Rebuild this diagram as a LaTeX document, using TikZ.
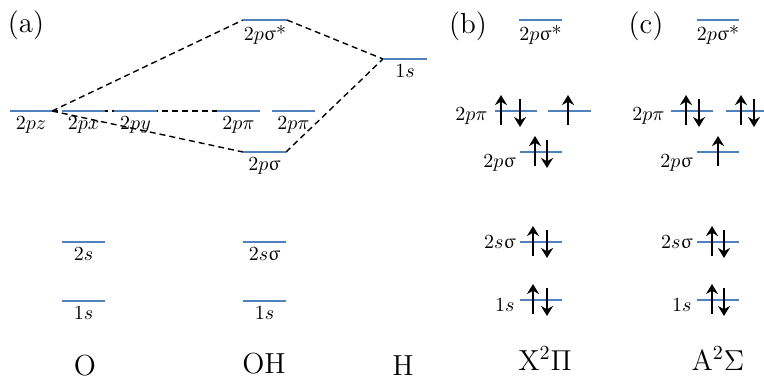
\documentclass[tikz,border=0pt]{standalone}
\usepackage{upgreek}
\usetikzlibrary{arrows.meta,calc}
\definecolor{lvlblue}{RGB}{79,129,189}

\begin{document}
\begin{tikzpicture}[x=0.5pt,y=-0.5pt,
  lvl/.style={lvlblue,line width=1.1pt},
  corr/.style={dash pattern=on 3pt off 2pt,line width=0.7pt},
  spin/.style={line width=1.3pt,-{Stealth[length=5pt,width=6pt]}},
  lab/.style={font=\fontsize{10}{12}\selectfont,inner sep=0pt},
  big/.style={font=\fontsize{14.5}{17}\selectfont,inner sep=0pt}]
  \useasboundingbox (0,0) rectangle (764,380);
  % levels: name / left / right / height
  \foreach \n/\xa/\xb/\y in {Opz/10/52/111, Opx/62/105/111, Opy/114/157/111,
      Os/62/105/242, Ok/62/105/301,
      ss/243/287/20, pia/217/260/111, pib/272/315/111, psg/243/286/152,
      OHs/243/286/242, OHk/243/286/301, Hk/383/427/59,
      b-ss/519/562/20, b-pia/495/537/111, b-pib/548/591/111, b-psg/520/562/152,
      b-s/520/562/242, b-k/520/562/300,
      c-ss/697/739/20, c-pia/671/713/111, c-pib/726/768/111, c-psg/697/739/152,
      c-s/697/739/242, c-k/697/739/300}
  {
    \coordinate (\n-l) at (\xa,\y);
    \coordinate (\n-r) at (\xb,\y);
  }
  % correlation lines
  \draw[corr] (Opz-r) -- (ss-l);
  \draw[corr] (Opz-r) -- (psg-l);
  \draw[corr] (Opz-r) -- (pia-l);
  \draw[corr] (ss-r) -- (Hk-l);
  \draw[corr] (psg-r) -- (Hk-l);
  \foreach \n in {Opz,Opx,Opy,Os,Ok,ss,pia,pib,psg,OHs,OHk,Hk,
      b-ss,b-pia,b-pib,b-psg,b-s,b-k,c-ss,c-pia,c-pib,c-psg,c-s,c-k}
    \draw[lvl] (\n-l) -- (\n-r);

  % (a) labels under the levels
  \node[lab,below=2.5pt] (tpz) at ($(Opz-l)!0.5!(Opz-r)$) {$2pz$};
  \node[lab,below=2.5pt] (tpx) at ($(Opx-l)!0.5!(Opx-r)$) {$2px$};
  \node[lab,below=2.5pt] (tpy) at ($(Opy-l)!0.5!(Opy-r)$) {$2py$};
  \node[lab,below=2.5pt] (tos) at ($(Os-l)!0.5!(Os-r)$) {$2s$};
  \node[lab,below=2.5pt] (tok) at ($(Ok-l)!0.5!(Ok-r)$) {$1s$};
  \node[lab,below=2.5pt] (tss) at ($(ss-l)!0.5!(ss-r)$) {$2p\upsigma$*};
  \node[lab,below=2.5pt] (tpia) at ($(pia-l)!0.5!(pia-r)$) {$2p\pi$};
  \node[lab,below=2.5pt] (tpib) at ($(pib-l)!0.5!(pib-r)$) {$2p\pi$};
  \node[lab,below=2.5pt] (tpsg) at ($(psg-l)!0.5!(psg-r)$) {$2p\upsigma$};
  \node[lab,below=2.5pt] (tohs) at ($(OHs-l)!0.5!(OHs-r)$) {$2s\upsigma$};
  \node[lab,below=2.5pt] (tohk) at ($(OHk-l)!0.5!(OHk-r)$) {$1s$};
  \node[lab,below=2.5pt] (thk) at ($(Hk-l)!0.5!(Hk-r)$) {$1s$};
  \node[big] (pa) at (26,25) {(a)};
  \node[big,anchor=base] (tO) at (85,375) {O};
  \node[big,anchor=base] (tOH) at (264,373) {OH};
  \node[big,anchor=base] (tH) at (403,375) {H};

  % (b) and (c)
  \foreach \p/\dx in {b/0,c/177}
  {
    \node[lab,below=2.5pt] (\p-tss) at ($(\p-ss-l)!0.5!(\p-ss-r)$) {$2p\upsigma$*};
    \node[lab,anchor=base east] (\p-tpi) at (488+\dx,120) {$2p\pi$};
    \node[lab,anchor=base east] (\p-tpsg) at (516+\dx,167) {$2p\upsigma$};
    \node[lab,anchor=base east] (\p-ts) at (516+\dx,248) {$2s\upsigma$};
    \node[lab,anchor=base east] (\p-tk) at (515+\dx,311) {$1s$};
  }
  \node[big] (pb) at (468,26) {(b)};
  \node[big] (pc) at (646,26) {(c)};
  \node[big,anchor=base] (tX) at (545,370) {X$^2\Pi$};
  \node[big,anchor=base] (tA) at (718,370) {A$^2\Sigma$};

  % electrons
  \foreach \x/\y in {501/111, 568/111, 535/152, 533/242, 533/300,
      686/111, 741/111, 718/152, 712/242, 712/300}
    \draw[spin] (\x,\y+14) -- (\x,\y-16);
  \foreach \x/\y in {520/111, 547/152, 547/242, 547/300,
      699/111, 754/111, 724/242, 724/300}
    \draw[spin] (\x,\y-12) -- (\x,\y+16);
\end{tikzpicture}
\end{document}
